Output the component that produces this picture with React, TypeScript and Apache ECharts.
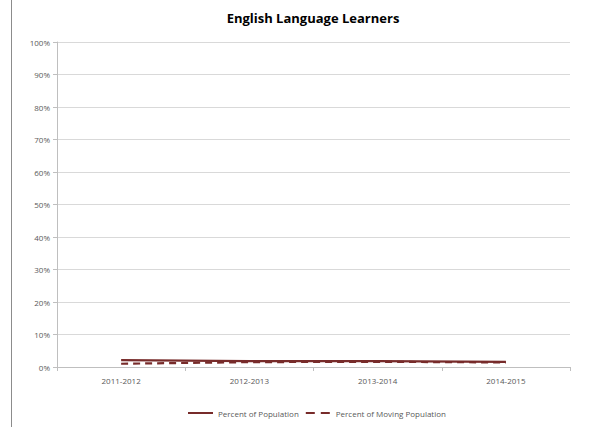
import React, { useEffect, useRef } from "react";
import * as echarts from "echarts";

const categories = ["2011-2012", "2012-2013", "2013-2014", "2014-2015"];
const percentOfPopulation = [2.1, 1.8, 1.8, 1.6];
const percentOfMovingPopulation = [1.0, 1.5, 1.6, 1.4];
const seriesNames = ["Percent of Population", "Percent of Moving Population"];
const titleText = "English Language Learners";

export default function App() {
  const ref = useRef<HTMLDivElement>(null);
  useEffect(() => {
    if (!ref.current) return;
    const chart = echarts.init(ref.current, undefined, { renderer: "svg" });
    const color = "#772B2A";
    const labelStyle = { color: "#595959", fontSize: 8, fontFamily: "Open Sans" };
    chart.setOption({
      animation: false,
      backgroundColor: "#ffffff",
      title: {
        text: titleText,
        left: 308,
        textAlign: "center",
        top: 6,
        textStyle: { fontFamily: "Open Sans", fontWeight: "bold", fontSize: 13, color: "#000" },
      },
      grid: { left: 57, right: 29, top: 42, bottom: 60 },
      legend: {
        bottom: 5,
        left: 182,
        itemWidth: 25,
        itemHeight: 10,
        itemGap: 6,
        textStyle: labelStyle,
        itemStyle: { opacity: 0 },
        data: [
          { name: seriesNames[0] },
          { name: seriesNames[1], lineStyle: { type: [9, 6] } },
        ],
      },
      xAxis: {
        type: "category",
        data: categories,
        boundaryGap: true,
        axisLine: { lineStyle: { color: "#bfbfbf" } },
        axisTick: { show: true, length: 4, lineStyle: { color: "#bfbfbf" } },
        axisLabel: { ...labelStyle, margin: 9 },
      },
      yAxis: {
        type: "value",
        min: 0,
        max: 100,
        interval: 10,
        axisLine: { show: true, lineStyle: { color: "#bfbfbf" } },
        axisTick: { show: true, length: 4, lineStyle: { color: "#bfbfbf" } },
        axisLabel: { ...labelStyle, formatter: "{value}%", margin: 7 },
        splitLine: { lineStyle: { color: "#d9d9d9" } },
      },
      graphic: [
        {
          type: "line",
          shape: { x1: 11.5, y1: 0, x2: 11.5, y2: 427 },
          style: { stroke: "#8c8c8c", lineWidth: 1 },
        },
      ],
      series: [
        {
          name: seriesNames[0],
          type: "line",
          data: percentOfPopulation,
          symbol: "none",
          lineStyle: { color, width: 2.2 },
          itemStyle: { color },
        },
        {
          name: seriesNames[1],
          type: "line",
          data: percentOfMovingPopulation,
          symbol: "none",
          lineStyle: { color, width: 2.2, type: [7, 5] },
          itemStyle: { color },
        },
      ],
    });
    return () => chart.dispose();
  }, []);
  return (
    <div
      ref={ref}
      style={{ position: "absolute", left: 0, top: 0, width: 599, height: 427 }}
    />
  );
}
